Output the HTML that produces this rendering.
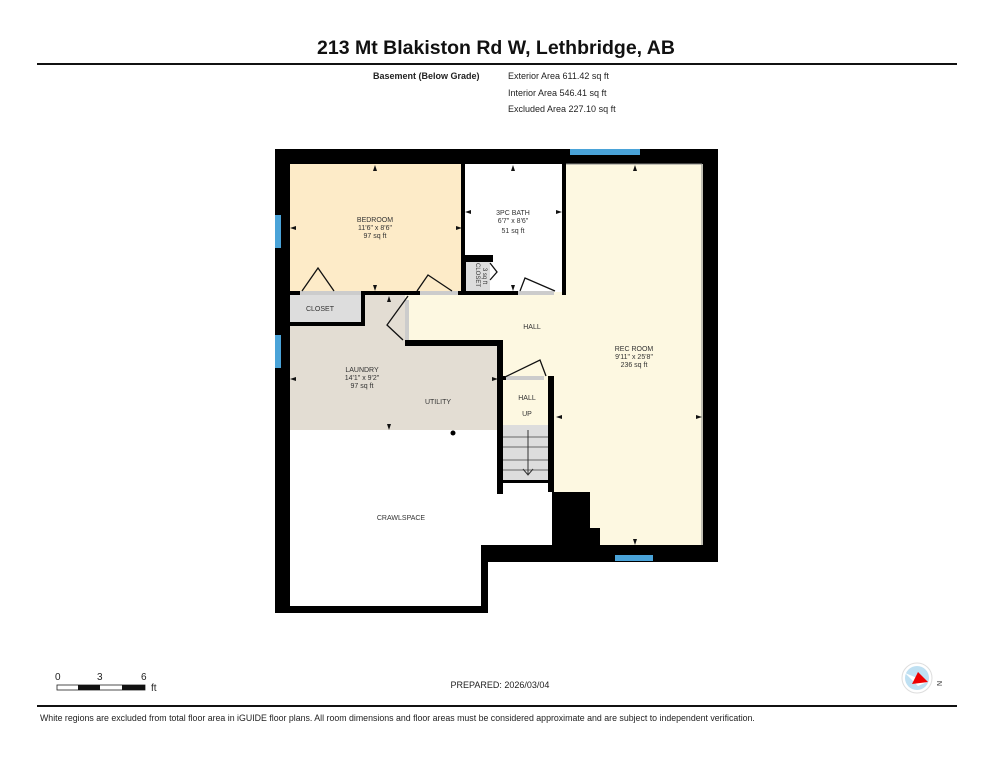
<!DOCTYPE html>
<html><head><meta charset="utf-8"><style>
html,body{margin:0;padding:0;background:#fff;}
body{width:993px;height:768px;overflow:hidden;font-family:"Liberation Sans",Arial,sans-serif;}
</style></head><body>
<svg width="993" height="768" viewBox="0 0 993 768" xmlns="http://www.w3.org/2000/svg" font-family="Liberation Sans, Arial, sans-serif">
<rect width="993" height="768" fill="#fff"/>
<text x="496" y="54" text-anchor="middle" font-size="19.5" font-weight="bold" fill="#111">213 Mt Blakiston Rd W, Lethbridge, AB</text>
<rect x="37" y="63" width="920" height="2" fill="#111"/>
<text x="373" y="79" font-size="9" font-weight="bold" fill="#222">Basement (Below Grade)</text>
<text x="508" y="79" font-size="9" fill="#222">Exterior Area 611.42 sq ft</text>
<text x="508" y="96" font-size="9" fill="#222">Interior Area 546.41 sq ft</text>
<text x="508" y="112" font-size="9" fill="#222">Excluded Area 227.10 sq ft</text>

<rect x="290" y="164" width="172" height="128" fill="#fdebc8"/>
<rect x="554" y="164" width="151" height="381" fill="#fdf8e1"/>
<rect x="405" y="295" width="160" height="82" fill="#fdf8e1"/>
<rect x="503" y="376" width="47" height="50" fill="#fdf8e1"/>
<rect x="462" y="164" width="102" height="128" fill="#fff"/>
<rect x="290" y="295" width="115" height="50" fill="#e3ddd3"/>
<rect x="290" y="340" width="210" height="90" fill="#e3ddd3"/>
<rect x="280" y="295" width="83" height="28" fill="#ddd"/>
<rect x="466" y="262" width="24" height="29" fill="#ddd"/>
<rect x="503" y="425" width="47" height="55" fill="#ddd"/>
<g stroke="#666" stroke-width="1"><line x1="503" y1="437" x2="550" y2="437"/><line x1="503" y1="447" x2="550" y2="447"/><line x1="503" y1="460" x2="550" y2="460"/><line x1="503" y1="470" x2="550" y2="470"/></g>
<line x1="528" y1="430" x2="528" y2="474" stroke="#333"/><path d="M523 469 L528 475 L533 469" fill="none" stroke="#333"/>
<rect x="420" y="291" width="38" height="4" fill="#ccc"/><rect x="518" y="291" width="36" height="4" fill="#ccc"/>
<rect x="506" y="376" width="38" height="4" fill="#ccc"/><rect x="300" y="291" width="62" height="4" fill="#ccc"/>
<rect x="405" y="300" width="4" height="40" fill="#ccc"/>

<g fill="#000">
<rect x="275" y="149" width="15" height="464"/>
<rect x="275" y="149" width="443" height="15"/>
<rect x="703" y="149" width="15" height="413"/>
<rect x="275" y="606" width="213" height="7"/>
<rect x="481" y="545" width="237" height="17"/>
<rect x="481" y="545" width="7" height="68"/>
<rect x="552" y="492" width="38" height="55"/>
<rect x="552" y="528" width="48" height="19"/>
<rect x="461" y="155" width="4" height="140"/>
<rect x="562" y="155" width="4" height="140"/>
<rect x="290" y="291" width="10" height="4"/><rect x="362" y="291" width="58" height="4"/><rect x="458" y="291" width="60" height="4"/>
<rect x="280" y="322" width="85" height="4"/>
<rect x="361" y="291" width="4" height="35"/>
<rect x="462" y="255" width="31" height="7"/>
<rect x="462" y="255" width="4" height="38"/>
<rect x="405" y="340" width="98" height="6"/>
<rect x="497" y="340" width="6" height="154"/>
<rect x="548" y="376" width="6" height="116"/>
<rect x="497" y="376" width="9" height="4"/>
<rect x="503" y="480" width="51" height="3"/>
<rect x="352" y="155" width="13" height="9"/>
<circle cx="453" cy="433" r="2.5"/>
</g>
<g fill="none" stroke="#888" stroke-width="1">
<line x1="702" y1="164" x2="702" y2="545"/>
<line x1="566" y1="164" x2="702" y2="164"/>
</g>
<g fill="#4aa3d8"><rect x="570" y="149" width="70" height="6"/><rect x="275" y="215" width="6" height="33"/><rect x="275" y="335" width="6" height="33"/><rect x="615" y="555" width="38" height="6"/></g>
<g fill="none" stroke="#111" stroke-width="1.3">
<path d="M302 291 L318 268 L334 291"/>
<path d="M417 291 L428 275 L452 291"/>
<path d="M520 291 L525 278 L555 291"/>
<path d="M490 263 L497 272 L490 280"/>
<path d="M408 296 L387 325 L403 340"/>
<path d="M505 377 L540 360 L546 376"/>
</g>
<g fill="#111">
<path d="M375 165 l-2 6 h4z"/><path d="M375 291 l-2 -6 h4z"/><path d="M290 228 l6 -2 v4z"/><path d="M462 228 l-6 -2 v4z"/>
<path d="M513 165 l-2 6 h4z"/><path d="M513 291 l-2 -6 h4z"/><path d="M465 212 l6 -2 v4z"/><path d="M562 212 l-6 -2 v4z"/>
<path d="M635 165 l-2 6 h4z"/><path d="M635 545 l-2 -6 h4z"/><path d="M556 417 l6 -2 v4z"/><path d="M702 417 l-6 -2 v4z"/>
<path d="M290 379 l6 -2 v4z"/><path d="M498 379 l-6 -2 v4z"/><path d="M389 430 l-2 -6 h4z"/><path d="M389 296 l-2 6 h4z"/>
</g>
<g font-size="7" fill="#333" text-anchor="middle">
<text x="375" y="222">BEDROOM</text><text x="375" y="230">11'6" x 8'6"</text><text x="375" y="238">97 sq ft</text>
<text x="513" y="215">3PC BATH</text><text x="513" y="223">6'7" x 8'6"</text><text x="513" y="233">51 sq ft</text>
<text x="320" y="311">CLOSET</text>
<text x="532" y="329">HALL</text>
<text x="634" y="351">REC ROOM</text><text x="634" y="359">9'11" x 25'8"</text><text x="634" y="367">236 sq ft</text>
<text x="362" y="372">LAUNDRY</text><text x="362" y="380">14'1" x 9'2"</text><text x="362" y="388">97 sq ft</text>
<text x="438" y="404">UTILITY</text>
<text x="527" y="400">HALL</text><text x="527" y="416">UP</text>
<text x="401" y="520">CRAWLSPACE</text>
<text transform="translate(476 275) rotate(90)" font-size="6">CLOSET</text>
<text transform="translate(483 276) rotate(90)" font-size="6">3 sq ft</text>
</g>

<g font-size="10" fill="#222">
<text x="55" y="680">0</text><text x="97" y="680">3</text><text x="141" y="680">6</text><text x="151" y="691">ft</text>
</g>
<rect x="57" y="685" width="88" height="5" fill="#fff" stroke="#222" stroke-width="0.8"/>
<rect x="78" y="685" width="22" height="5" fill="#111"/><rect x="122" y="685" width="23" height="5" fill="#111"/>
<text x="500" y="688" text-anchor="middle" font-size="9" fill="#222">PREPARED: 2026/03/04</text>
<circle cx="917" cy="678" r="15" fill="#fff" stroke="#ddd" stroke-width="1"/>
<circle cx="917" cy="678" r="12" fill="#bfe0f2"/>
<path d="M905 673 L927 682 L918 686 Z" fill="#fff"/>
<path d="M918 672 L928 682 L912 684 Z" fill="#e00"/>
<text x="937" y="687" font-size="7" fill="#222" transform="rotate(-90 939 684)">N</text>
<rect x="37" y="705" width="920" height="2" fill="#111"/>
<text x="40" y="721" font-size="8.8" fill="#222">White regions are excluded from total floor area in iGUIDE floor plans. All room dimensions and floor areas must be considered approximate and are subject to independent verification.</text>
</svg>
</body></html>
